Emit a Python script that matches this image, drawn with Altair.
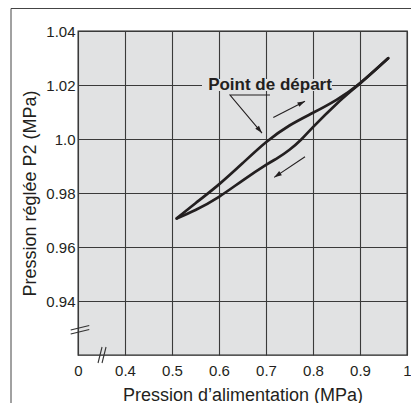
import math
import altair as alt
import pandas as pd

# ---------------- data ----------------
x_ticks = [0.3, 0.4, 0.5, 0.6, 0.7, 0.8, 0.9, 1.0]
y_ticks = [0.94, 0.96, 0.98, 1.0, 1.02, 1.04]

up_x = [0.51, 0.55, 0.60, 0.65, 0.70, 0.75, 0.80, 0.85, 0.90, 0.96]
up_y = [0.9706, 0.9762, 0.9832, 0.9910, 0.9988, 1.0050, 1.0097, 1.0145, 1.0206, 1.0299]
down_x = [0.51, 0.55, 0.60, 0.65, 0.70, 0.725, 0.75, 0.775, 0.80, 0.85, 0.90, 0.96]
down_y = [0.9706, 0.9737, 0.9786, 0.9846, 0.9904, 0.9930, 0.9960, 0.9998, 1.0044, 1.0130, 1.0206, 1.0299]

# annotation arrows (data units)
arrow_up_x = [0.7155, 0.783]
arrow_up_y = [1.008, 1.014]
arrow_down_x = [0.783, 0.7175]
arrow_down_y = [0.9934, 0.9858]
leader_x = [0.7085, 0.6234, 0.6915]
leader_y = [1.0163, 1.0163, 1.0022]

note_text = "Point de départ"
note_x, note_y = 0.7085, 1.01815
note_box_x = [0.5638, 0.8404]
note_box_y = [1.0178, 1.0222]

# axis-break marks (data units)
ybreak_x = [0.2845, 0.324]
ybreak_y1 = [0.92926, 0.93093]
ybreak_y2 = [0.92778, 0.92944]
xbreak_y = [0.91704, 0.92296]
xbreak_x1 = [0.3426, 0.3511]
xbreak_x2 = [0.3511, 0.3596]

x_title = "Pression d’alimentation (MPa)"
y_title = "Pression réglée P2 (MPa)"

# ---------------- layout / style ----------------
W, H = 329, 324
X_DOM = [0.3, 1.0]
Y_DOM = [0.92, 1.04]
INK = "#231f20"
BG = "#e1e2e3"
FONT = "Liberation Sans"

xs = alt.Scale(domain=X_DOM, nice=False, zero=False)
ys = alt.Scale(domain=Y_DOM, nice=False, zero=False)

xaxis = alt.Axis(
    values=x_ticks,
    labelExpr="datum.value < 0.35 ? '0' : (datum.value > 0.95 ? '1' : format(datum.value, '.1f'))",
    title=x_title, grid=True, ticks=False, tickSize=0, domain=False,
    labelPadding=8, labelFlush=False, labelOverlap=False, labelBound=False,
    titleX=W / 2, titleY=45, titleBaseline="alphabetic", titleAlign="center",
)
yaxis = alt.Axis(
    values=y_ticks,
    labelExpr="abs(datum.value - 1) < 0.001 ? '1.0' : format(datum.value, '.2f')",
    title=y_title, grid=True, ticks=False, tickSize=0, domain=False,
    labelPadding=3, labelFlush=False, labelOverlap=False, labelBound=False,
    titleX=-48, titleY=H / 2, titleAngle=270, titleAlign="center", titleBaseline="middle",
)

X = alt.X("x:Q", scale=xs, axis=xaxis)
Y = alt.Y("y:Q", scale=ys, axis=yaxis)

# ---------------- tables ----------------
curves = pd.DataFrame(
    [{"x": a, "y": b, "s": "up"} for a, b in zip(up_x, up_y)]
    + [{"x": a, "y": b, "s": "down"} for a, b in zip(down_x, down_y)]
)

kx = W / (X_DOM[1] - X_DOM[0])
ky = H / (Y_DOM[1] - Y_DOM[0])

arrows = []
heads = []
for name, ax, ay in [("a1", arrow_up_x, arrow_up_y), ("a2", arrow_down_x, arrow_down_y),
                     ("lead", leader_x, leader_y)]:
    for i, (a, b) in enumerate(zip(ax, ay)):
        arrows.append({"x": a, "y": b, "id": name, "o": i})
    dx = (ax[-1] - ax[-2]) * kx
    dy = -(ay[-1] - ay[-2]) * ky
    ang = math.degrees(math.atan2(dx, -dy)) % 360
    heads.append({"x": ax[-1], "y": ay[-1], "ang": ang})
arrows = pd.DataFrame(arrows)
heads = pd.DataFrame(heads)

breaks = pd.DataFrame(
    [{"x": a, "y": b, "id": "y1", "o": i} for i, (a, b) in enumerate(zip(ybreak_x, ybreak_y1))]
    + [{"x": a, "y": b, "id": "y2", "o": i} for i, (a, b) in enumerate(zip(ybreak_x, ybreak_y2))]
    + [{"x": a, "y": b, "id": "x1", "o": i} for i, (a, b) in enumerate(zip(xbreak_x1, xbreak_y))]
    + [{"x": a, "y": b, "id": "x2", "o": i} for i, (a, b) in enumerate(zip(xbreak_x2, xbreak_y))]
)

box = pd.DataFrame([{"x": note_box_x[0], "x2": note_box_x[1], "y": note_box_y[0], "y2": note_box_y[1]}])
note = pd.DataFrame([{"x": note_x, "y": note_y, "t": note_text}])
dummy = pd.DataFrame({"a": [0]})

# ---------------- layers ----------------
box_layer = alt.Chart(box).mark_rect(fill=BG, stroke=None).encode(x=X, x2="x2:Q", y=Y, y2="y2:Q")

curve_layer = alt.Chart(curves).mark_line(
    color=INK, strokeWidth=2.7, interpolate="natural", strokeCap="round", strokeJoin="round"
).encode(x=X, y=Y, detail="s:N", order="x:Q")

arrow_layer = alt.Chart(arrows).mark_line(color=INK, strokeWidth=1.1).encode(
    x=X, y=Y, detail="id:N", order="o:Q"
)

head_layer = alt.Chart(heads).mark_point(
    shape="M0,0L-0.32,1L0.32,1Z", filled=True, size=230, color=INK, opacity=1, strokeWidth=0
).encode(x=X, y=Y, angle=alt.Angle("ang:Q", scale=None))

break_layer = alt.Chart(breaks).mark_line(color="#333333", strokeWidth=1.1, clip=False).encode(
    x=X, y=Y, detail="id:N", order="o:Q"
)

note_layer = alt.Chart(note).mark_text(
    font=FONT, fontSize=17, fontWeight="bold", color=INK, align="center", baseline="alphabetic"
).encode(x=X, y=Y, text="t:N")

frame_left = alt.Chart(dummy).mark_rule(color="#444444", strokeWidth=1).encode(
    x=alt.value(-67), y=alt.value(-22.5), y2=alt.value(H + 48)
)
frame_top = alt.Chart(dummy).mark_rule(color="#444444", strokeWidth=1).encode(
    x=alt.value(-67), x2=alt.value(W + 4), y=alt.value(-22.5)
)

chart = alt.layer(
    box_layer, curve_layer, arrow_layer, head_layer, break_layer, note_layer, frame_left, frame_top
).properties(
    width=W, height=H,
    autosize=alt.AutoSizeParams(type="none"),
    padding={"left": 70, "top": 23, "right": 4, "bottom": 48},
).configure_view(
    fill=BG, stroke="#222222", strokeWidth=1.3
).configure_axis(
    labelFont=FONT, labelFontSize=15, labelColor=INK,
    titleFont=FONT, titleFontSize=18, titleColor=INK, titleFontWeight="normal",
    gridColor="#3a3a3a", gridWidth=1.1, gridOpacity=1,
)

chart.save("out.html", embed_options={"renderer": "svg", "actions": False})
